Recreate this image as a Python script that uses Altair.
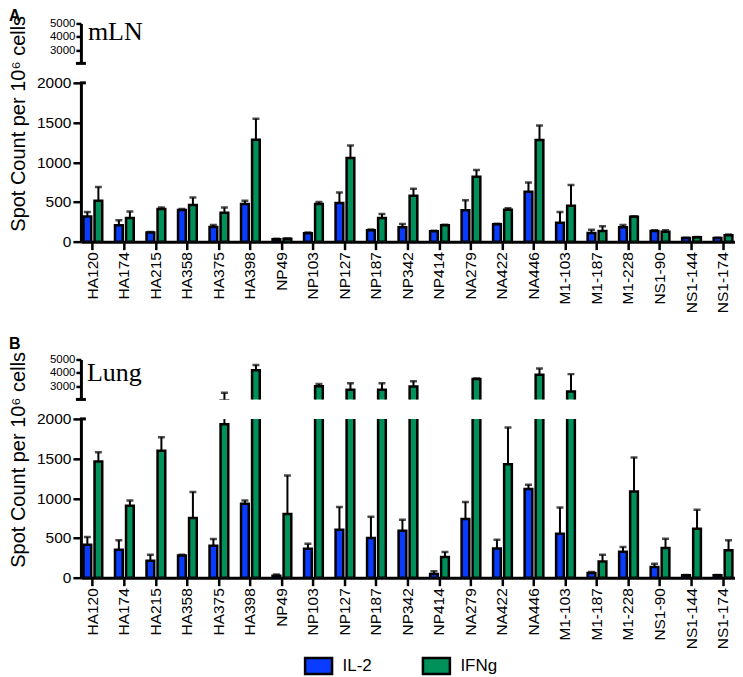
import altair as alt
import pandas as pd

categories = ["HA120", "HA174", "HA215", "HA358", "HA375", "HA398", "NP49", "NP103",
              "NP127", "NP187", "NP342", "NP414", "NA279", "NA422", "NA446",
              "M1-103", "M1-187", "M1-228", "NS1-90", "NS1-144", "NS1-174"]
series_names = ["IL-2", "IFNg"]

# mLN (panel A)
mln_il2 = [318, 205, 115, 400, 185, 474, 30, 105, 487, 142, 180, 130, 394, 218, 629,
           239, 109, 180, 135, 45, 45]
mln_il2_err = [55, 63, 8, 10, 25, 42, 5, 10, 133, 10, 42, 8, 126, 8, 117,
               134, 42, 30, 10, 5, 5]
mln_ifng = [516, 298, 411, 460, 365, 1283, 35, 474, 1053, 298, 579, 205, 818, 403, 1279,
            453, 134, 315, 125, 55, 80]
mln_ifng_err = [172, 83, 20, 97, 65, 264, 5, 25, 159, 50, 88, 8, 84, 17, 184,
                260, 59, 5, 20, 5, 10]

# Lung (panel B)
lung_il2 = [415, 352, 214, 280, 403, 931, 25, 365, 604, 500, 591, 46, 738, 369, 1116,
            554, 60, 327, 134, 30, 30]
lung_il2_err = [97, 118, 75, 10, 84, 42, 15, 63, 285, 267, 139, 34, 214, 109, 54,
                331, 13, 59, 42, 5, 5]
lung_ifng = [1463, 906, 1598, 751, 1933, 4198, 801, 2992, 2718, 2718, 2962, 260, 3532, 1430, 3850,
             2592, 205, 1086, 373, 616, 344]
lung_ifng_err = [118, 67, 172, 327, 560, 392, 486, 168, 494, 495, 398, 63, 48, 461, 470,
                 1308, 84, 428, 118, 239, 126]

lower_ticks = [0, 500, 1000, 1500, 2000]
upper_ticks = [3000, 4000, 5000]
y_title = "Spot Count per 10\u2076 cells"

FONT = "Liberation Sans"
SERIF = "Liberation Serif"
BLUE = "#0a3cff"
GREEN = "#00905a"
W = 655
H_UP = 40
H_LOW = 159


def panel_df(il2, il2e, ifn, ifne):
    rows = []
    for i, c in enumerate(categories):
        rows.append({"cat": c, "series": "IL-2", "value": il2[i], "top": il2[i] + il2e[i]})
        rows.append({"cat": c, "series": "IFNg", "value": ifn[i], "top": ifn[i] + ifne[i]})
    return pd.DataFrame(rows)


def text_layer(txt, x, y, **kw):
    return alt.Chart(pd.DataFrame({"t": [txt]})).mark_text(**kw).encode(
        text="t:N", x=alt.value(x), y=alt.value(y))


def segment(df, lower, legend=None, extras=()):
    if lower:
        yscale = alt.Scale(domain=[0, 2000], nice=False, zero=True)
        yaxis = alt.Axis(values=lower_ticks, title=None, labelFontSize=15.5,
                         tickSize=8, labelPadding=2, format="d", labelOverlap=False)
        xaxis = alt.Axis(title=None, labelAngle=-90, labelFontSize=15.5, tickSize=8,
                         labelPadding=2, labelOverlap=False)
    else:
        yscale = alt.Scale(domain=[2000, 5000], nice=False, zero=False)
        yaxis = alt.Axis(values=upper_ticks, title=None, labelFontSize=11.5,
                         tickSize=5, labelPadding=1, format="d", labelOverlap=False)
        xaxis = None
    xenc = alt.X("cat:N", sort=categories,
                 scale=alt.Scale(paddingInner=0.3, paddingOuter=0.03), axis=xaxis)
    xoff = alt.XOffset("series:N", sort=series_names,
                       scale=alt.Scale(paddingInner=0.3, paddingOuter=0.15))
    base = alt.Chart(df).encode(x=xenc, xOffset=xoff)
    color = alt.Color("series:N", sort=series_names,
                      scale=alt.Scale(domain=series_names, range=[BLUE, GREEN]),
                      legend=legend)
    bars = base.mark_bar(stroke="black", strokeWidth=2.5, clip=True).encode(
        y=alt.Y("value:Q", scale=yscale, axis=yaxis),
        y2=alt.datum(0),
        color=color,
    )
    errs = base.mark_rule(color="black", strokeWidth=2, clip=True).encode(
        y=alt.Y("value:Q", scale=yscale, axis=yaxis), y2=alt.Y2("top:Q"))
    caps = base.mark_tick(color="black", thickness=2.5, size=7, clip=True).encode(
        y=alt.Y("top:Q", scale=yscale, axis=yaxis))
    if lower:
        cap = alt.Chart(pd.DataFrame({"b": [0]})).mark_rule(
            color="black", strokeWidth=3).encode(
            y=alt.YDatum(2000, scale=yscale, axis=yaxis), x=alt.value(-1), x2=alt.value(5))
    else:
        cap = alt.Chart(pd.DataFrame({"b": [0]})).mark_rule(
            color="black", strokeWidth=3).encode(
            y=alt.YDatum(2000, scale=yscale, axis=yaxis), x=alt.value(-5), x2=alt.value(5))
    layers = [bars, errs, caps, cap] + list(extras)
    h = H_LOW if lower else H_UP
    return alt.layer(*layers).properties(width=W, height=h)


dfA = panel_df(mln_il2, mln_il2_err, mln_ifng, mln_ifng_err)
dfB = panel_df(lung_il2, lung_il2_err, lung_ifng, lung_ifng_err)

upA = segment(dfA, False, extras=[
    text_layer("A", -72, -15, font=FONT, fontSize=16, fontWeight="bold",
               align="left", baseline="top"),
    text_layer("mLN", 7, 17, font=SERIF, fontSize=26, align="left",
               baseline="alphabetic"),
])
lowA = segment(dfA, True, extras=[
    text_layer(y_title, -62, 41, font=FONT, fontSize=20, angle=270,
               align="center", baseline="middle"),
])

spacer = alt.Chart(pd.DataFrame({"t": [""]})).mark_text().encode(
    text="t:N").properties(width=W, height=79)

upB = segment(dfB, False, extras=[
    text_layer("B", -72, -23, font=FONT, fontSize=16, fontWeight="bold",
               align="left", baseline="top"),
    text_layer("Lung", 6, 22, font=SERIF, fontSize=26, align="left",
               baseline="alphabetic"),
])
legend = alt.Legend(
    orient="none", legendX=223, legendY=232, direction="horizontal", columns=2,
    title=None, symbolType="M-1,-0.6L1,-0.6L1,0.6L-1,0.6Z", symbolSize=729,
    symbolStrokeColor="black", symbolStrokeWidth=2.5,
    symbolOpacity=1, labelFont=FONT, labelFontSize=17, labelColor="black",
    labelOffset=9, columnPadding=45)
lowB = segment(dfB, True, legend=legend, extras=[
    text_layer(y_title, -62, 41, font=FONT, fontSize=20, angle=270,
               align="center", baseline="middle"),
])

chart = alt.vconcat(upA, lowA, spacer, upB, lowB, spacing=19.5, bounds="flush").resolve_scale(
    color="independent"
).properties(padding=0).configure_view(stroke=None).configure_axis(
    labelFont=FONT, labelColor="black", domainColor="black", tickColor="black",
    domainWidth=3, tickWidth=2.5, grid=False
)

chart.save("out.html", embed_options={"renderer": "svg", "actions": False})
